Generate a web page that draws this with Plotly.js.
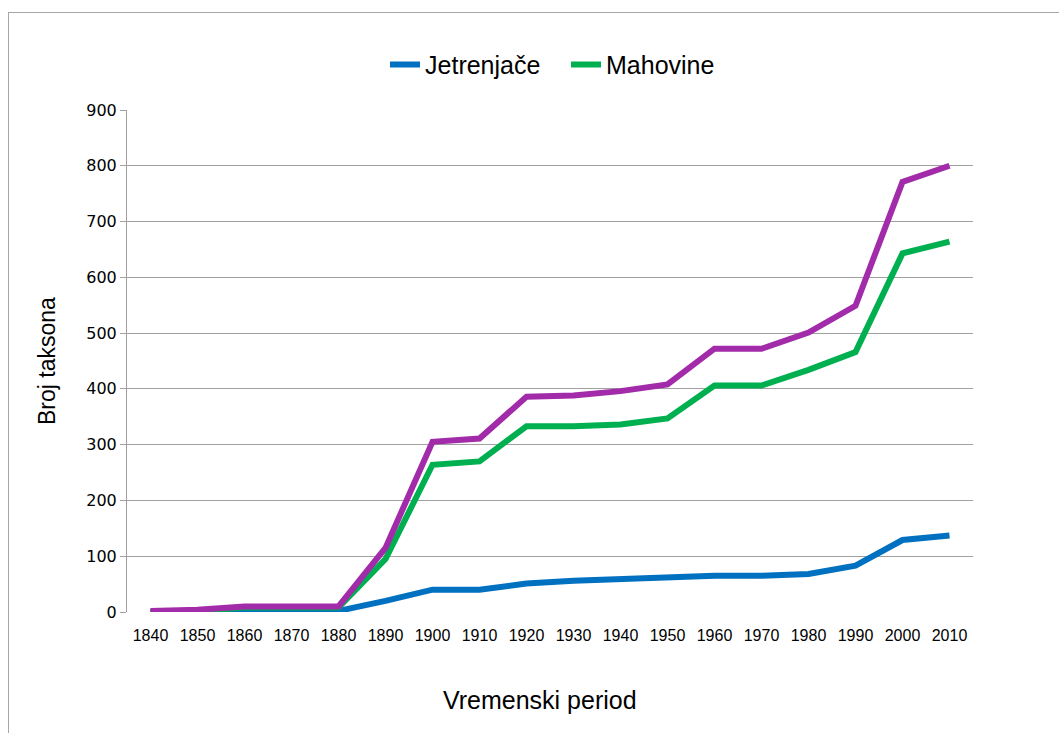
<!DOCTYPE html>
<html>
<head>
<meta charset="utf-8">
<script src="https://cdn.plot.ly/plotly-3.0.1.min.js"></script>
<style>
  html, body { margin: 0; padding: 0; background: #ffffff; overflow: hidden; }
  #frame { position: absolute; left: 8px; top: 12px; width: 1200px; height: 900px; border: 1px solid #a6a6a6; box-sizing: border-box; }
  #chart { position: absolute; left: 0; top: 0; width: 1059px; height: 733px; }
</style>
</head>
<body>
<div id="frame"></div>
<div id="chart"></div>
<script>
const years = ['1840','1850','1860','1870','1880','1890','1900','1910','1920','1930','1940','1950','1960','1970','1980','1990','2000','2010'];
const jetrenjace = [0, 0, 2, 2, 2, 20, 40, 40, 51, 56, 59, 62, 65, 65, 68, 83, 129, 137];
const mahovine  = [0, 2, 8, 8, 8, 95, 264, 270, 333, 333, 336, 347, 406, 406, 434, 466, 643, 664];
const ukupno    = [2, 4, 10, 10, 10, 115, 305, 311, 386, 388, 396, 408, 472, 472, 501, 549, 771, 800];
const yTicks = [0, 100, 200, 300, 400, 500, 600, 700, 800, 900];

const lineBase = {type: 'scatter', mode: 'lines', x: years, hoverinfo: 'x+y'};
const traces = [
  Object.assign({}, lineBase, {y: jetrenjace, name: 'Jetrenjače', line: {color: '#0070C0', width: 6}}),
  Object.assign({}, lineBase, {y: mahovine, name: 'Mahovine', line: {color: '#00B050', width: 6}}),
  Object.assign({}, lineBase, {y: ukupno, name: 'Ukupno', showlegend: false, line: {color: '#A22BAA', width: 6}})
];

const layout = {
  width: 1059, height: 733,
  margin: {l: 127, r: 86, t: 110, b: 121},
  paper_bgcolor: 'rgba(0,0,0,0)',
  plot_bgcolor: 'rgba(0,0,0,0)',
  font: {family: 'Liberation Sans, Arial, sans-serif', color: '#000000'},
  showlegend: true,
  legend: {orientation: 'h', x: 0.305, y: 1.09, xanchor: 'left', yanchor: 'middle',
           entrywidth: 136, entrywidthmode: 'pixels',
           font: {size: 25, family: 'Liberation Sans, Arial, sans-serif'}, itemwidth: 30, traceorder: 'normal', bgcolor: 'rgba(0,0,0,0)'},
  xaxis: {
    type: 'category', categoryorder: 'array', categoryarray: years,
    range: [-0.5, years.length - 0.5],
    showgrid: false, zeroline: false, showline: false,
    ticks: '', tickfont: {size: 16, family: 'Liberation Sans, Arial, sans-serif'},
    ticklabelstandoff: 12
  },
  yaxis: {
    range: [0, 900], tickvals: yTicks, ticktext: yTicks.map(String),
    showgrid: true, gridcolor: '#a0a0a0', gridwidth: 1,
    zeroline: false, showline: true, linecolor: '#a0a0a0', linewidth: 1,
    ticks: 'outside', ticklen: 6, tickcolor: '#a0a0a0', tickwidth: 1,
    tickfont: {size: 16, family: 'DejaVu Sans, sans-serif'}
  },
  annotations: [
    {text: 'Broj taksona', xref: 'paper', yref: 'paper', x: -0.0946, y: 0.5,
     xanchor: 'center', yanchor: 'middle', textangle: -90, showarrow: false,
     font: {size: 23, family: 'Liberation Sans, Arial, sans-serif'}},
    {text: 'Vremenski period', xref: 'paper', yref: 'paper', x: 0.488, y: -0.175,
     xanchor: 'center', yanchor: 'middle', showarrow: false,
     font: {size: 25, family: 'Liberation Sans, Arial, sans-serif'}}
  ]
};

Plotly.newPlot('chart', traces, layout, {displayModeBar: false, staticPlot: true});
</script>
</body>
</html>
